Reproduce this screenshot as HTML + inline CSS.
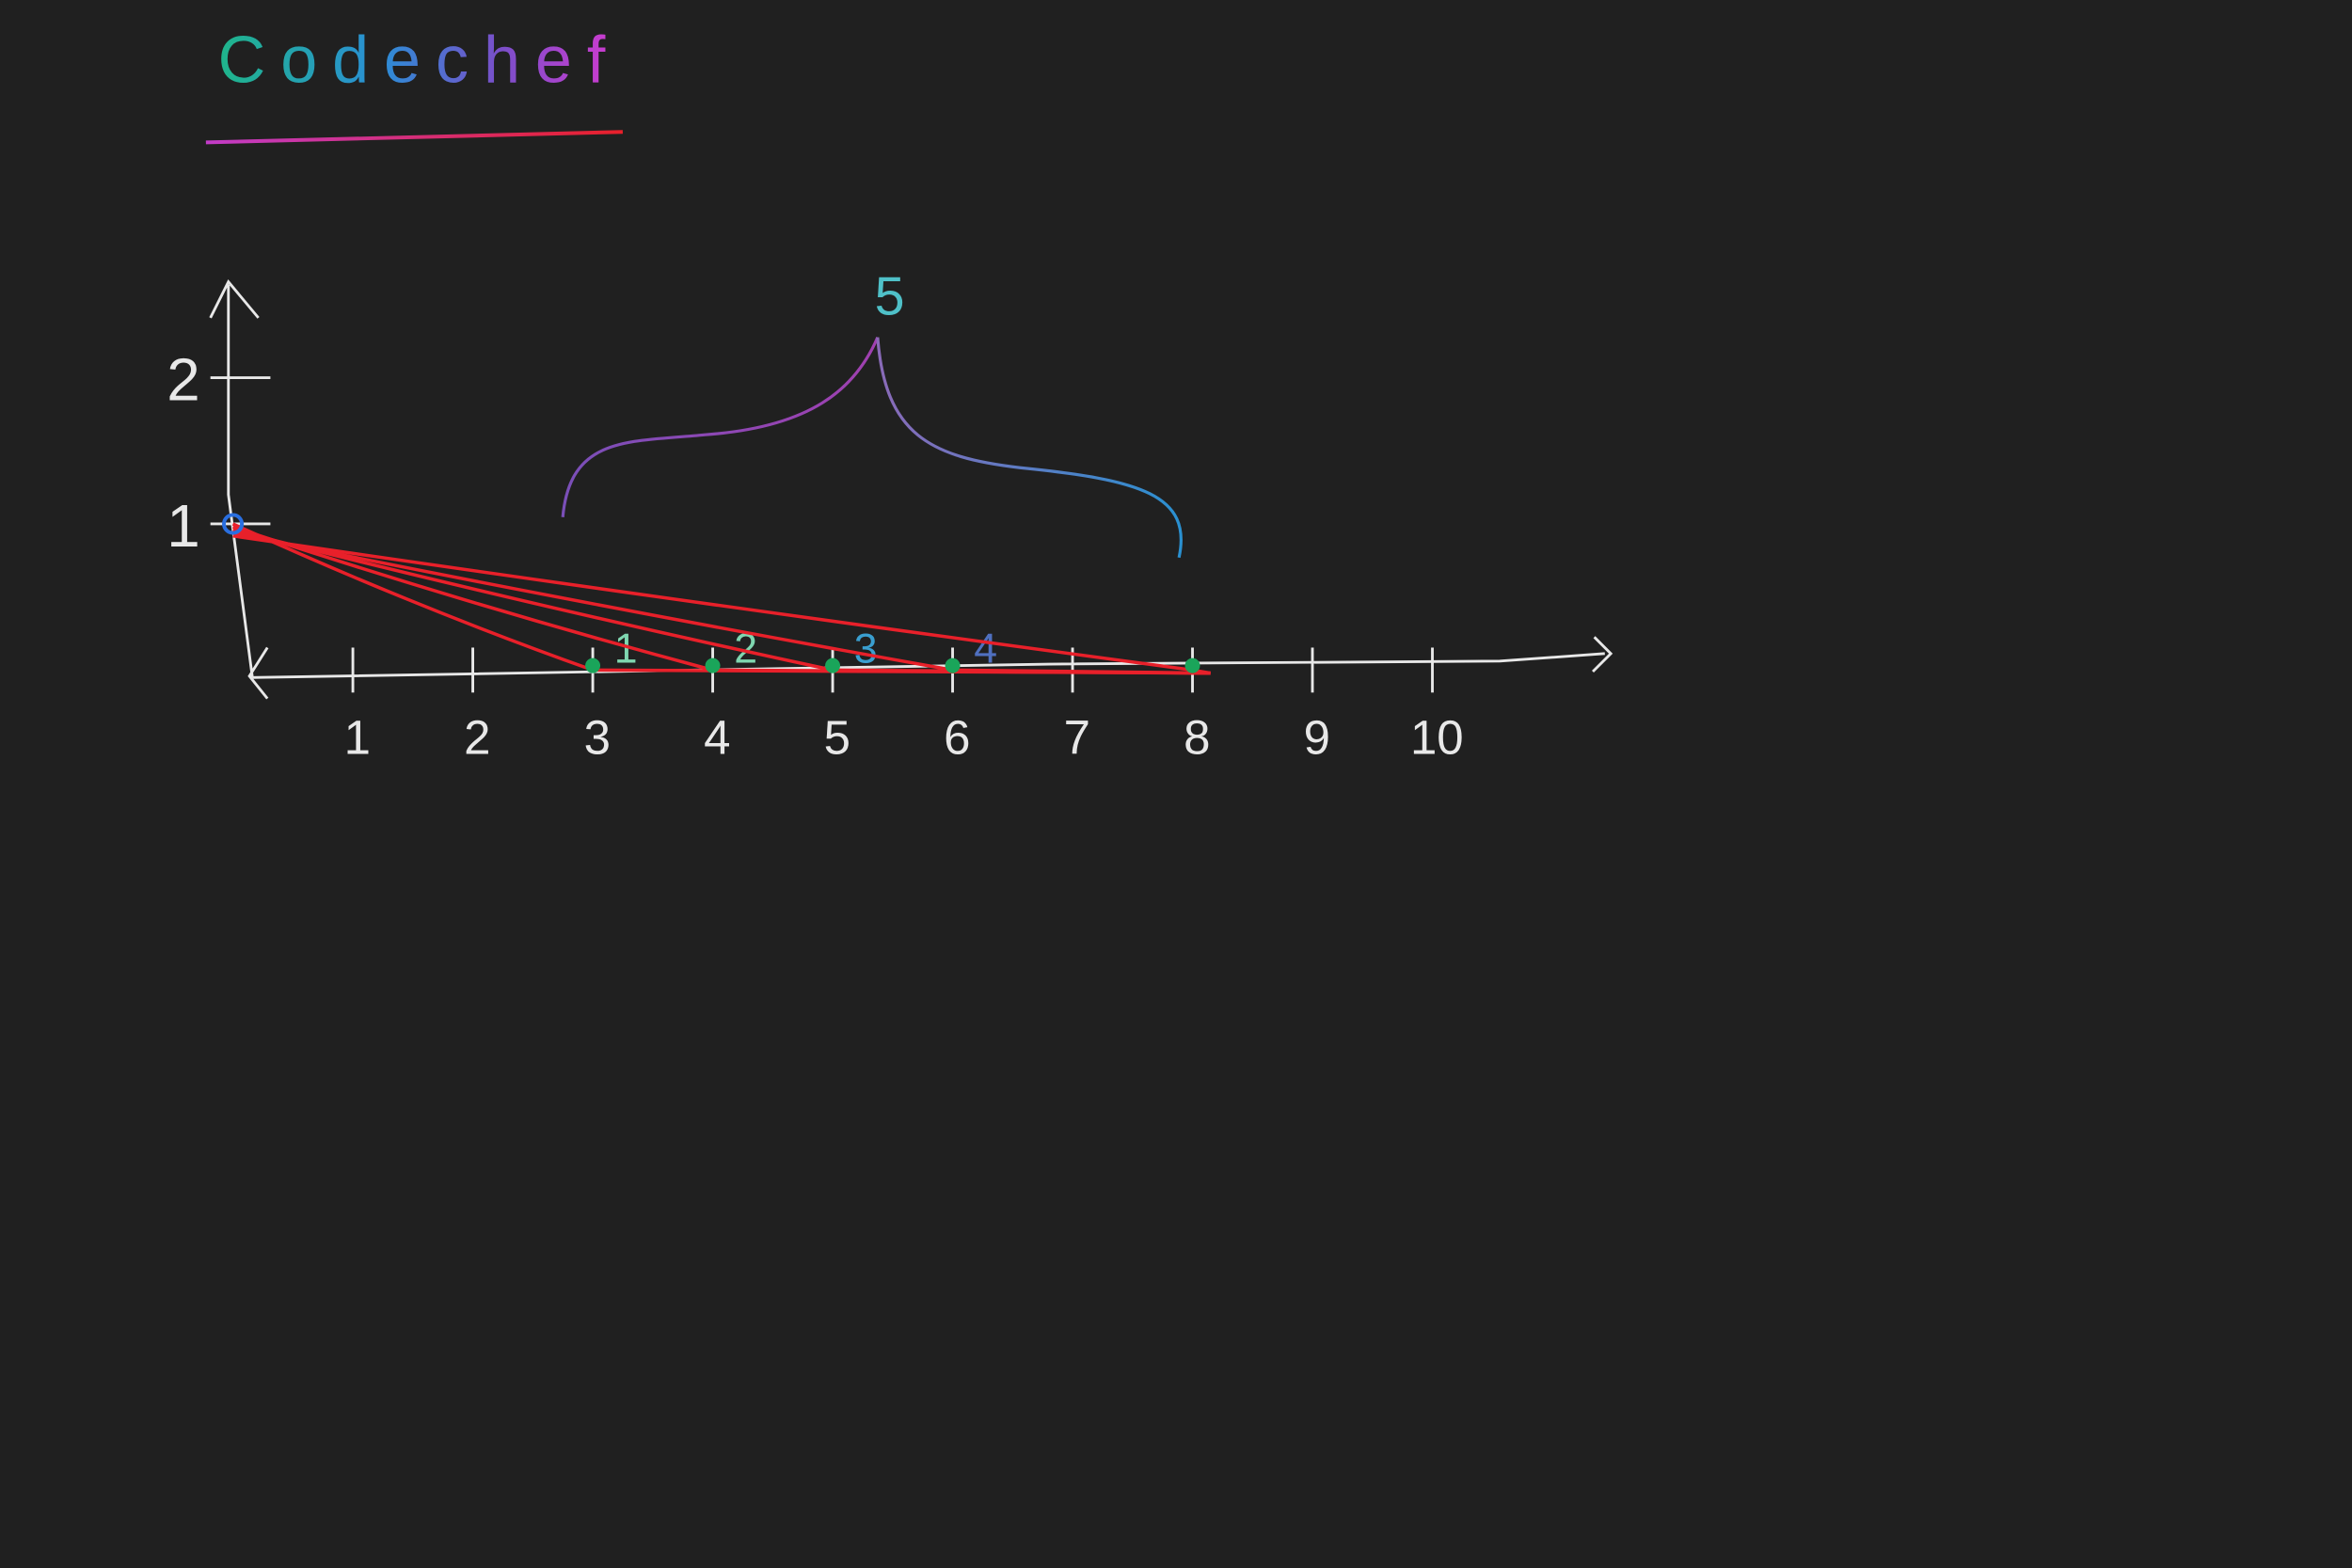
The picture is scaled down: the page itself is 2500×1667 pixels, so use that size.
<!DOCTYPE html>
<html><head><meta charset="utf-8">
<style>
html,body{margin:0;padding:0;background:#202020;}
svg{display:block;}
text{font-family:"Liberation Sans",sans-serif;}
</style></head>
<body>
<svg width="2500" height="1667" viewBox="0 0 1568 1046" xmlns="http://www.w3.org/2000/svg">
<defs>
<linearGradient id="tg" x1="0" x2="1" y1="0" y2="0">
<stop offset="0" stop-color="#1fb58a"/><stop offset="0.4" stop-color="#2a8fd6"/><stop offset="0.7" stop-color="#7a4fc9"/><stop offset="1" stop-color="#d23ad0"/>
</linearGradient>
<linearGradient id="ug" x1="0" x2="1"><stop offset="0" stop-color="#c23cc8"/><stop offset="1" stop-color="#e8202a"/></linearGradient>
<linearGradient id="bg1" x1="0" x2="1"><stop offset="0" stop-color="#7a4fb8"/><stop offset="1" stop-color="#a040b0"/></linearGradient>
<linearGradient id="bg2" x1="0" x2="1"><stop offset="0" stop-color="#8a6ab8"/><stop offset="1" stop-color="#2a90d0"/></linearGradient>
</defs>
<text x="145" y="55" font-size="44" fill="url(#tg)" letter-spacing="10">Codechef</text>
<path d="M137 95 L415 88" stroke="url(#ug)" stroke-width="2.5" fill="none"/>
<g id="chart"></g>
</svg>
<script>
const xTicks=[1,2,3,4,5,6,7,8,9,10];
const yTicks=[1,2];
const endpoints=[3,4,5,6,8];
const endLabels=["1","2","3","4"];
const startY=1;
const braceLabel="5";
const NS="http://www.w3.org/2000/svg";
const g=document.getElementById('chart');
const X=v=>155+80*v, Y=v=>447-97.5*v;
function mk(t,a){const e=document.createElementNS(NS,t);for(const k in a)e.setAttribute(k,a[k]);g.appendChild(e);return e;}
const W="#e8e8e8";
let ax=mk('path',{d:`M168 452 L700 443 L1000 441 L1070 436 M1063 425 L1074 436 L1062 448 M178 432 L166 451 L178 466`,stroke:W,'stroke-width':1.8,fill:'none'});

let ay=mk('path',{d:`M168 452 L152 330 L152 190 M140 212 L152 188 L172 212`,stroke:W,'stroke-width':1.8,fill:'none'});

xTicks.forEach(v=>{
 let t=mk('line',{x1:X(v),x2:X(v),y1:Y(0)-15,y2:Y(0)+15,stroke:W,'stroke-width':1.8});
 
 let l=mk('text',{x:X(v)+3,y:Y(0)+56,'font-size':32,fill:W,'text-anchor':'middle','font-weight':'300'});l.textContent=v;
 
});
yTicks.forEach(v=>{
 let t=mk('line',{x1:140,x2:180,y1:Y(v),y2:Y(v),stroke:W,'stroke-width':1.8});
 
 let l=mk('text',{x:122,y:Y(v)+15,'font-size':40,fill:W,'text-anchor':'middle'});l.textContent=v;
 
});
endpoints.forEach((v,i)=>{
 const x0=X(0),y0=Y(startY),x1=X(v),y1=Y(0);
 const mx=(x0+x1)/2, my=(y0+y1)/2+6;
 let p=mk('path',{d:`M${x0} ${y0+i*2} Q${mx} ${my} ${x1} ${y1} L${X(8)+12} ${y1+2}`,stroke:'#e8202a','stroke-width':2.2,fill:'none'});
 
 let c=mk('circle',{cx:x1,cy:y1-3,r:5,fill:'#1aa55a'});
 
 if(endLabels[i]){let l=mk('text',{x:x1+22,y:y1-5,'font-size':28,fill:i<2?'#7fd6b0':(i==2?'#3a9fd0':'#5070c0'),'text-anchor':'middle'});l.textContent=endLabels[i];
 }
});
let s=mk('circle',{cx:X(0),cy:Y(startY),r:6,fill:'none',stroke:'#2a6fe0','stroke-width':2.5});

let b1=mk('path',{d:`M375 345 C380 290 420 295 470 290 C540 285 570 260 585 225`,stroke:'url(#bg1)','stroke-width':2,fill:'none'});

let b2=mk('path',{d:`M585 225 C590 290 620 305 680 312 C760 320 795 330 786 372`,stroke:'url(#bg2)','stroke-width':2,fill:'none'});

let bl=mk('text',{x:593,y:210,'font-size':36,fill:'#4fc0c8','text-anchor':'middle'});bl.textContent=braceLabel;

</script>
</body></html>
